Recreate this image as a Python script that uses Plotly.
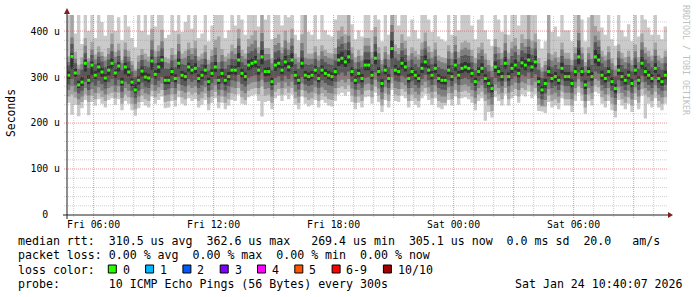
import numpy as np
import pandas as pd
import plotly.graph_objects as go

# ---------------- data ----------------
start = pd.Timestamp("2026-01-23 04:40:07")
end = pd.Timestamp("2026-01-24 10:40:07")
step_seconds = 600

median_us = [
    304, 345, 309, 283, 289, 330, 293, 326, 304, 322, 311, 298, 315, 330, 309, 324, 289, 322, 311, 289, 272, 293, 313, 300, 298, 335, 306, 322, 337, 293,
    293, 312, 297, 330, 304, 301, 322, 315, 319, 297, 304, 315, 290, 308, 322, 293, 308, 293, 301, 315, 315, 337, 308, 301, 326, 330, 333, 315, 344, 312,
    312, 290, 326, 330, 315, 333, 322, 337, 304, 293, 330, 304, 301, 304, 315, 297, 315, 308, 304, 301, 312, 337, 341, 333, 344, 312, 293, 308, 297, 326,
    326, 304, 341, 312, 286, 315, 297, 362, 315, 312, 330, 322, 297, 312, 304, 297, 319, 333, 315, 304, 319, 297, 293, 293, 315, 301, 326, 304, 319, 322,
    319, 308, 290, 312, 319, 297, 286, 275, 322, 312, 301, 330, 301, 319, 326, 308, 331, 326, 337, 322, 333, 290, 272, 286, 312, 297, 301, 293, 319, 301,
    301, 286, 312, 344, 312, 283, 312, 301, 344, 337, 304, 297, 312, 290, 275, 315, 301, 293, 304, 286, 315, 293, 330, 312, 304, 297, 319, 297, 290, 304,
]

rtt_p1 = [
    244, 218, 240, 215, 232, 250, 217, 246, 238, 252, 242, 234, 250, 254, 240, 252, 228, 248, 242, 228, 216, 232, 246, 238, 234, 258, 242, 250, 258, 232,
    234, 248, 236, 256, 242, 238, 254, 248, 252, 234, 240, 250, 228, 244, 254, 232, 244, 230, 238, 250, 248, 262, 242, 240, 256, 260, 262, 248, 214, 246,
    248, 230, 254, 260, 248, 261, 252, 262, 240, 230, 258, 242, 236, 240, 250, 234, 250, 244, 238, 236, 248, 262, 266, 260, 268, 246, 230, 244, 234, 256,
    258, 242, 266, 246, 224, 250, 234, 272, 248, 246, 260, 254, 234, 248, 240, 234, 254, 262, 250, 240, 254, 234, 230, 238, 250, 238, 258, 240, 254, 256,
    252, 244, 228, 248, 254, 205, 224, 212, 256, 248, 238, 262, 238, 254, 260, 244, 262, 258, 268, 254, 262, 226, 236, 222, 246, 234, 238, 230, 254, 238,
    238, 224, 248, 266, 248, 220, 248, 238, 268, 264, 242, 234, 248, 228, 212, 250, 238, 230, 242, 224, 250, 230, 260, 210, 242, 234, 254, 234, 228, 242,
]
rtt_p2 = [
    258, 262, 255, 240, 246, 262, 246, 260, 252, 264, 256, 248, 262, 266, 254, 266, 242, 262, 256, 242, 230, 245, 260, 252, 248, 270, 256, 264, 272, 246,
    248, 262, 250, 270, 256, 252, 268, 262, 266, 248, 254, 264, 242, 258, 268, 246, 258, 244, 252, 264, 262, 276, 256, 250, 270, 274, 276, 262, 280, 260,
    262, 244, 268, 274, 262, 275, 266, 276, 254, 244, 272, 256, 250, 254, 264, 248, 264, 258, 252, 250, 262, 276, 280, 274, 282, 260, 244, 258, 248, 270,
    272, 256, 280, 260, 238, 264, 248, 286, 262, 260, 274, 268, 248, 262, 254, 248, 268, 276, 264, 254, 268, 248, 244, 244, 264, 252, 272, 254, 268, 270,
    266, 258, 242, 262, 268, 248, 238, 226, 270, 262, 252, 276, 252, 268, 274, 258, 276, 272, 282, 268, 276, 240, 225, 236, 260, 248, 252, 244, 268, 252,
    252, 238, 262, 280, 262, 234, 262, 252, 282, 278, 256, 248, 262, 242, 226, 264, 252, 244, 256, 238, 264, 244, 274, 262, 256, 248, 268, 248, 242, 256,
]
rtt_p3 = [
    272, 280, 268, 252, 258, 276, 260, 274, 266, 278, 270, 262, 276, 280, 268, 280, 255, 276, 270, 256, 242, 258, 274, 265, 262, 284, 270, 278, 286, 260,
    262, 276, 263, 285, 270, 266, 282, 276, 280, 262, 268, 278, 256, 272, 282, 260, 272, 258, 266, 278, 276, 290, 270, 265, 284, 288, 290, 276, 294, 274,
    276, 258, 283, 288, 276, 289, 280, 290, 268, 258, 286, 270, 265, 268, 278, 262, 278, 272, 266, 264, 276, 290, 294, 288, 296, 275, 258, 272, 262, 284,
    286, 270, 294, 275, 252, 278, 262, 300, 276, 274, 288, 282, 262, 276, 268, 262, 282, 290, 278, 268, 282, 262, 258, 258, 278, 266, 286, 268, 282, 284,
    280, 272, 255, 276, 282, 262, 252, 240, 284, 276, 266, 290, 266, 282, 288, 272, 290, 286, 296, 282, 290, 254, 238, 250, 274, 262, 266, 258, 282, 266,
    266, 252, 276, 295, 276, 248, 276, 266, 296, 292, 270, 262, 276, 256, 240, 278, 266, 258, 270, 252, 278, 258, 288, 276, 270, 262, 282, 262, 256, 270,
]
rtt_p4 = [
    284, 296, 282, 265, 270, 290, 272, 288, 281, 292, 285, 275, 289, 296, 282, 294, 268, 290, 285, 270, 255, 270, 288, 278, 276, 298, 283, 292, 300, 272,
    275, 290, 276, 300, 283, 279, 296, 290, 294, 276, 282, 292, 270, 287, 296, 273, 286, 271, 280, 293, 291, 305, 285, 279, 298, 302, 304, 291, 310, 289,
    290, 272, 298, 302, 292, 303, 296, 306, 283, 273, 300, 284, 280, 283, 292, 277, 293, 287, 282, 280, 290, 305, 310, 303, 312, 290, 273, 286, 277, 298,
    300, 284, 310, 290, 267, 293, 276, 318, 292, 290, 303, 298, 276, 291, 283, 277, 296, 305, 293, 283, 296, 276, 273, 272, 293, 280, 300, 283, 296, 298,
    295, 287, 270, 291, 296, 276, 266, 256, 298, 290, 280, 304, 280, 296, 302, 287, 305, 301, 310, 298, 306, 268, 252, 265, 289, 276, 280, 272, 295, 280,
    280, 266, 290, 310, 290, 262, 290, 280, 312, 308, 283, 276, 290, 270, 255, 293, 280, 272, 283, 266, 293, 272, 303, 290, 283, 276, 296, 276, 270, 283,
]
rtt_p5 = [
    296, 318, 300, 276, 280, 312, 285, 305, 296, 310, 300, 290, 304, 318, 298, 312, 281, 306, 302, 280, 266, 284, 301, 292, 289, 316, 297, 309, 318, 285,
    285, 303, 289, 318, 296, 292, 312, 306, 309, 288, 296, 305, 282, 300, 311, 285, 299, 284, 293, 306, 305, 322, 299, 292, 315, 318, 321, 305, 328, 302,
    303, 282, 314, 319, 306, 321, 312, 322, 295, 285, 318, 296, 292, 296, 306, 289, 306, 300, 295, 292, 303, 324, 328, 322, 330, 302, 285, 299, 289, 315,
    315, 296, 328, 303, 278, 306, 288, 340, 305, 303, 318, 312, 288, 303, 295, 289, 309, 320, 306, 295, 309, 288, 285, 284, 306, 292, 314, 295, 309, 312,
    309, 299, 281, 303, 309, 288, 278, 267, 311, 303, 292, 318, 292, 309, 315, 299, 320, 315, 325, 312, 321, 281, 264, 277, 302, 288, 292, 284, 308, 292,
    292, 278, 302, 328, 302, 274, 303, 292, 330, 324, 295, 288, 302, 281, 266, 305, 292, 284, 295, 278, 305, 284, 318, 302, 295, 288, 309, 288, 281, 295,
]
rtt_p6 = [
    312, 352, 318, 292, 300, 338, 304, 334, 313, 330, 320, 306, 324, 341, 316, 333, 299, 331, 320, 297, 284, 302, 323, 310, 307, 344, 315, 331, 346, 302,
    302, 321, 306, 341, 313, 310, 331, 324, 330, 306, 313, 326, 299, 317, 333, 302, 318, 303, 311, 325, 324, 352, 318, 310, 337, 341, 346, 324, 360, 321,
    322, 299, 338, 342, 324, 346, 332, 352, 313, 302, 342, 313, 310, 313, 324, 306, 325, 317, 313, 310, 321, 350, 355, 344, 358, 322, 302, 317, 306, 338,
    338, 313, 355, 322, 295, 325, 306, 380, 326, 321, 343, 333, 306, 322, 313, 306, 330, 347, 325, 313, 329, 306, 302, 301, 325, 310, 339, 313, 330, 333,
    330, 317, 299, 322, 330, 306, 295, 284, 334, 322, 311, 343, 310, 330, 338, 318, 343, 337, 350, 333, 346, 300, 281, 296, 323, 306, 311, 302, 331, 311,
    311, 295, 323, 362, 322, 293, 322, 311, 360, 350, 314, 306, 322, 300, 285, 326, 311, 303, 314, 296, 326, 302, 343, 322, 314, 306, 330, 306, 300, 314,
]
rtt_p7 = [
    325, 372, 330, 305, 316, 352, 320, 348, 328, 344, 334, 322, 338, 356, 330, 346, 315, 345, 334, 312, 300, 318, 337, 324, 322, 360, 330, 345, 362, 318,
    318, 336, 322, 356, 328, 326, 346, 338, 346, 322, 328, 340, 314, 332, 348, 318, 334, 318, 326, 340, 338, 368, 332, 326, 352, 356, 362, 338, 378, 336,
    338, 315, 354, 358, 338, 362, 348, 368, 328, 318, 358, 328, 326, 328, 340, 322, 340, 332, 328, 326, 336, 366, 372, 360, 376, 338, 318, 332, 322, 354,
    354, 328, 372, 338, 312, 340, 322, 398, 342, 336, 358, 348, 322, 338, 328, 322, 346, 362, 340, 328, 345, 322, 318, 316, 340, 326, 355, 328, 346, 348,
    346, 332, 315, 338, 346, 322, 312, 300, 350, 338, 326, 358, 326, 346, 354, 334, 358, 352, 366, 348, 362, 316, 298, 312, 338, 322, 326, 318, 346, 326,
    326, 312, 338, 380, 338, 310, 338, 326, 376, 366, 330, 322, 338, 316, 302, 342, 326, 318, 330, 312, 342, 318, 360, 338, 330, 322, 346, 322, 316, 330,
]
rtt_p8 = [
    333, 386, 340, 318, 328, 368, 334, 360, 338, 354, 346, 336, 350, 372, 344, 358, 330, 360, 344, 326, 313, 334, 348, 338, 334, 380, 344, 356, 378, 333,
    330, 348, 338, 372, 340, 342, 360, 350, 362, 336, 340, 354, 328, 346, 364, 332, 348, 334, 340, 356, 350, 384, 346, 340, 366, 372, 380, 352, 396, 350,
    350, 330, 370, 374, 352, 380, 360, 384, 340, 332, 374, 342, 340, 340, 354, 336, 356, 346, 342, 340, 350, 382, 388, 374, 390, 352, 332, 346, 336, 368,
    368, 342, 388, 352, 328, 354, 338, 413, 356, 350, 374, 362, 336, 352, 344, 338, 360, 378, 354, 342, 360, 336, 332, 330, 356, 340, 370, 342, 360, 364,
    360, 346, 330, 352, 360, 338, 326, 314, 366, 352, 340, 374, 340, 362, 368, 348, 374, 366, 382, 362, 376, 330, 312, 326, 352, 336, 342, 332, 360, 340,
    340, 326, 352, 396, 352, 324, 352, 340, 390, 380, 344, 336, 354, 330, 316, 356, 340, 332, 344, 326, 356, 332, 376, 352, 344, 336, 360, 336, 330, 344,
]
rtt_p9 = [
    345, 445, 355, 327, 343, 385, 341, 377, 349, 367, 355, 345, 363, 395, 355, 373, 337, 375, 357, 335, 317, 347, 361, 351, 345, 405, 357, 369, 403, 343,
    340, 363, 349, 393, 351, 357, 375, 363, 379, 345, 351, 369, 337, 359, 381, 445, 361, 345, 351, 371, 363, 405, 359, 351, 383, 391, 401, 365, 450, 363,
    363, 341, 385, 393, 365, 401, 375, 405, 351, 343, 393, 445, 351, 351, 367, 347, 369, 359, 353, 351, 363, 401, 410, 393, 448, 365, 343, 359, 347, 385,
    385, 355, 409, 365, 337, 367, 349, 460, 371, 363, 393, 379, 347, 365, 357, 349, 375, 397, 367, 355, 375, 347, 343, 341, 369, 353, 389, 355, 375, 379,
    375, 359, 341, 365, 375, 351, 337, 323, 383, 365, 353, 393, 353, 377, 385, 361, 393, 383, 438, 379, 395, 341, 321, 335, 445, 349, 355, 343, 375, 353,
    353, 337, 365, 452, 365, 333, 365, 445, 411, 399, 357, 347, 367, 341, 325, 371, 353, 343, 357, 337, 371, 343, 395, 365, 357, 347, 375, 347, 341, 357,
]
rtt_p10 = [
    455, 480, 395, 440, 372, 465, 400, 438, 385, 452, 420, 390, 445, 470, 400, 430, 380, 450, 410, 385, 365, 440, 400, 445, 392, 485, 410, 436, 460, 385,
    392, 445, 400, 460, 398, 420, 448, 405, 455, 385, 395, 450, 378, 412, 462, 388, 440, 385, 402, 450, 412, 480, 425, 392, 446, 458, 470, 410, 488, 425,
    440, 382, 450, 468, 412, 472, 430, 485, 392, 380, 462, 445, 398, 392, 438, 382, 442, 402, 392, 388, 425, 470, 484, 452, 486, 415, 382, 402, 388, 450,
    462, 402, 485, 425, 378, 440, 392, 500, 436, 412, 460, 442, 388, 425, 402, 384, 440, 468, 425, 398, 445, 388, 382, 378, 436, 392, 462, 402, 440, 450,
    445, 412, 382, 425, 450, 402, 382, 368, 456, 425, 398, 468, 392, 442, 460, 412, 466, 450, 475, 442, 462, 382, 362, 378, 450, 398, 410, 388, 445, 402,
    402, 378, 436, 490, 425, 378, 430, 445, 485, 472, 408, 392, 436, 382, 368, 442, 402, 388, 415, 378, 440, 388, 468, 425, 408, 392, 446, 392, 382, 410,
]

x_tick_vals = ["2026-01-23 06:00", "2026-01-23 09:00", "2026-01-23 12:00", "2026-01-23 15:00",
               "2026-01-23 18:00", "2026-01-23 21:00", "2026-01-24 00:00", "2026-01-24 03:00",
               "2026-01-24 06:00", "2026-01-24 09:00"]
x_tick_text = ["Fri 06:00", "", "Fri 12:00", "", "Fri 18:00", "", "Sat 00:00", "", "Sat 06:00", ""]
y_tick_vals = [0, 100, 200, 300, 400]
y_tick_text = ["0\u00a0\u00a0", "100 u", "200 u", "300 u", "400 u"]

smoke_colors = ["#cacaca", "#a4a4a4", "#7e7e7e", "#585858", "#323232"]
loss_colors = ["#26ff00", "#00b8ff", "#0059ff", "#7e00ff", "#ff00ff", "#ff5500", "#ff0000", "#a10000"]
loss_labels = ["0", "1", "2", "3", "4", "5", "6-9", "10/10"]

legend_lines = [
    "median rtt:  310.5 us avg  362.6 us max   269.4 us min  305.1 us now  0.0 ms sd  20.0   am/s",
    "packet loss: 0.00 % avg  0.00 % max  0.00 % min  0.00 % now",
    "loss color:",
    "probe:       10 ICMP Echo Pings (56 Bytes) every 300s",
]
stamp_text = "Sat Jan 24 10:40:07 2026"

# ---------------- build ----------------
pings = [rtt_p1, rtt_p2, rtt_p3, rtt_p4, rtt_p5, rtt_p6, rtt_p7, rtt_p8, rtt_p9, rtt_p10]
for arr in pings + [median_us]:
    assert len(arr) == 180, len(arr)
P = np.sort(np.array(pings, dtype=float), axis=0)
n = P.shape[1]
edges = [start + pd.Timedelta(seconds=step_seconds * i) for i in range(n + 1)]
mids = [start + pd.Timedelta(seconds=step_seconds * i + step_seconds / 2) for i in range(n)]

W, H = 697, 297
L, R, T, B = 67, 30, 15, 82
PW, PH = W - L - R, H - T - B


def pxx(px):
    return (px - L) / PW


def pxy(py):
    return (T + PH - py) / PH


fig = go.Figure()
for k, col in enumerate(smoke_colors):
    lo = list(P[k]) + [P[k][-1]]
    hi = list(P[9 - k]) + [P[9 - k][-1]]
    fig.add_trace(go.Scatter(x=edges, y=lo, mode="lines", line=dict(width=0, shape="hv"),
                             hoverinfo="skip", showlegend=False))
    fig.add_trace(go.Scatter(x=edges, y=hi, mode="lines", line=dict(width=0, shape="hv"),
                             fill="tonexty", fillcolor=col, hoverinfo="skip", showlegend=False))

fig.add_trace(go.Scatter(x=mids, y=median_us, mode="markers",
                         marker=dict(symbol="square", size=3, color=loss_colors[0], line=dict(width=0)),
                         hoverinfo="skip", showlegend=False))

shapes = []
minor_col = "rgba(150,150,150,0.45)"
major_col = "rgba(222,79,79,0.6)"
dash = "1px,1px"
# vertical grid
hours = pd.date_range("2026-01-23 05:00", "2026-01-24 10:00", freq="1h")
for h in hours:
    major = (h.hour % 3 == 0)
    shapes.append(dict(type="line", xref="x", yref="paper", x0=h, x1=h,
                       y0=pxy(218 if major else 217), y1=1, layer="above",
                       line=dict(color=major_col if major else minor_col, width=1, dash=dash)))
# horizontal grid
for v in range(20, 435, 20):
    major = (v % 100 == 0)
    shapes.append(dict(type="line", xref="paper", yref="y", x0=pxx(64), x1=1, y0=v, y1=v,
                       layer="above",
                       line=dict(color=major_col if major else minor_col, width=1, dash=dash)))
# axes
axis_col = "#1f1f1f"
arrow_col = "#801f1f"
shapes.append(dict(type="line", xref="paper", yref="paper", x0=pxx(63), x1=pxx(669),
                   y0=pxy(215), y1=pxy(215), layer="above", line=dict(color=axis_col, width=1)))
shapes.append(dict(type="line", xref="paper", yref="paper", x0=pxx(67), x1=pxx(67),
                   y0=pxy(219), y1=pxy(12), layer="above", line=dict(color=axis_col, width=1)))
shapes.append(dict(type="path", xref="paper", yref="paper", layer="above",
                   path=f"M {pxx(668)} {pxy(212)} L {pxx(673)} {pxy(215)} L {pxx(668)} {pxy(218)} Z",
                   fillcolor=arrow_col, line=dict(width=0)))
shapes.append(dict(type="path", xref="paper", yref="paper", layer="above",
                   path=f"M {pxx(64)} {pxy(14)} L {pxx(67)} {pxy(8)} L {pxx(70)} {pxy(14)} Z",
                   fillcolor=arrow_col, line=dict(width=0)))

mono = "DejaVu Sans Mono"
annotations = []
line_y = [240.5, 255, 269.5, 283.8]
for txt, y in zip(legend_lines, line_y):
    annotations.append(dict(text=txt.replace(" ", "\u00a0"), xref="paper", yref="paper",
                            x=pxx(16), y=pxy(y), xanchor="left", yanchor="middle", showarrow=False,
                            font=dict(family=mono, size=11.6, color="black")))
annotations.append(dict(text=stamp_text.replace(" ", "\u00a0"), xref="paper", yref="paper",
                        x=pxx(16 + 71 * 7), y=pxy(line_y[3]), xanchor="left", yanchor="middle",
                        showarrow=False, font=dict(family=mono, size=11.6, color="black")))
cur = 108.3
for col, lab in zip(loss_colors, loss_labels):
    shapes.append(dict(type="rect", xref="paper", yref="paper", x0=pxx(cur), x1=pxx(cur + 8),
                       y0=pxy(265), y1=pxy(273), fillcolor=col, line=dict(color="black", width=1),
                       layer="above"))
    annotations.append(dict(text=lab, xref="paper", yref="paper", x=pxx(cur + 12.3), y=pxy(line_y[2]),
                            xanchor="left", yanchor="middle", showarrow=False,
                            font=dict(family=mono, size=11.6, color="black")))
    cur += 12.3 + len(lab) * 7 + 18
annotations.append(dict(text="Seconds", xref="paper", yref="paper", x=pxx(11), y=pxy(113),
                        textangle=-90, xanchor="center", yanchor="middle", showarrow=False,
                        font=dict(family=mono, size=11.4, color="black")))
annotations.append(dict(text="RRDTOOL / TOBI OETIKER", xref="paper", yref="paper", x=pxx(686), y=pxy(60),
                        textangle=90, xanchor="center", yanchor="middle", showarrow=False,
                        font=dict(family=mono, size=8.3, color="#c0c0c0")))

fig.update_layout(
    width=W, height=H, autosize=False,
    margin=dict(l=L, r=R, t=T, b=B, pad=0),
    paper_bgcolor="white", plot_bgcolor="white",
    showlegend=False, hovermode=False,
    shapes=shapes, annotations=annotations,
    xaxis=dict(type="date", range=[start, end], showgrid=False, zeroline=False, showline=False,
               tickvals=x_tick_vals, ticktext=x_tick_text, ticks="", ticklabelstandoff=2,
               tickfont=dict(family=mono, size=9.8, color="black"), fixedrange=True),
    yaxis=dict(range=[0, 435], showgrid=False, zeroline=False, showline=False,
               tickvals=y_tick_vals, ticktext=y_tick_text, ticks="", ticklabelstandoff=6,
               tickfont=dict(family=mono, size=9.8, color="black"), fixedrange=True),
)

fig.write_html("out.html")
